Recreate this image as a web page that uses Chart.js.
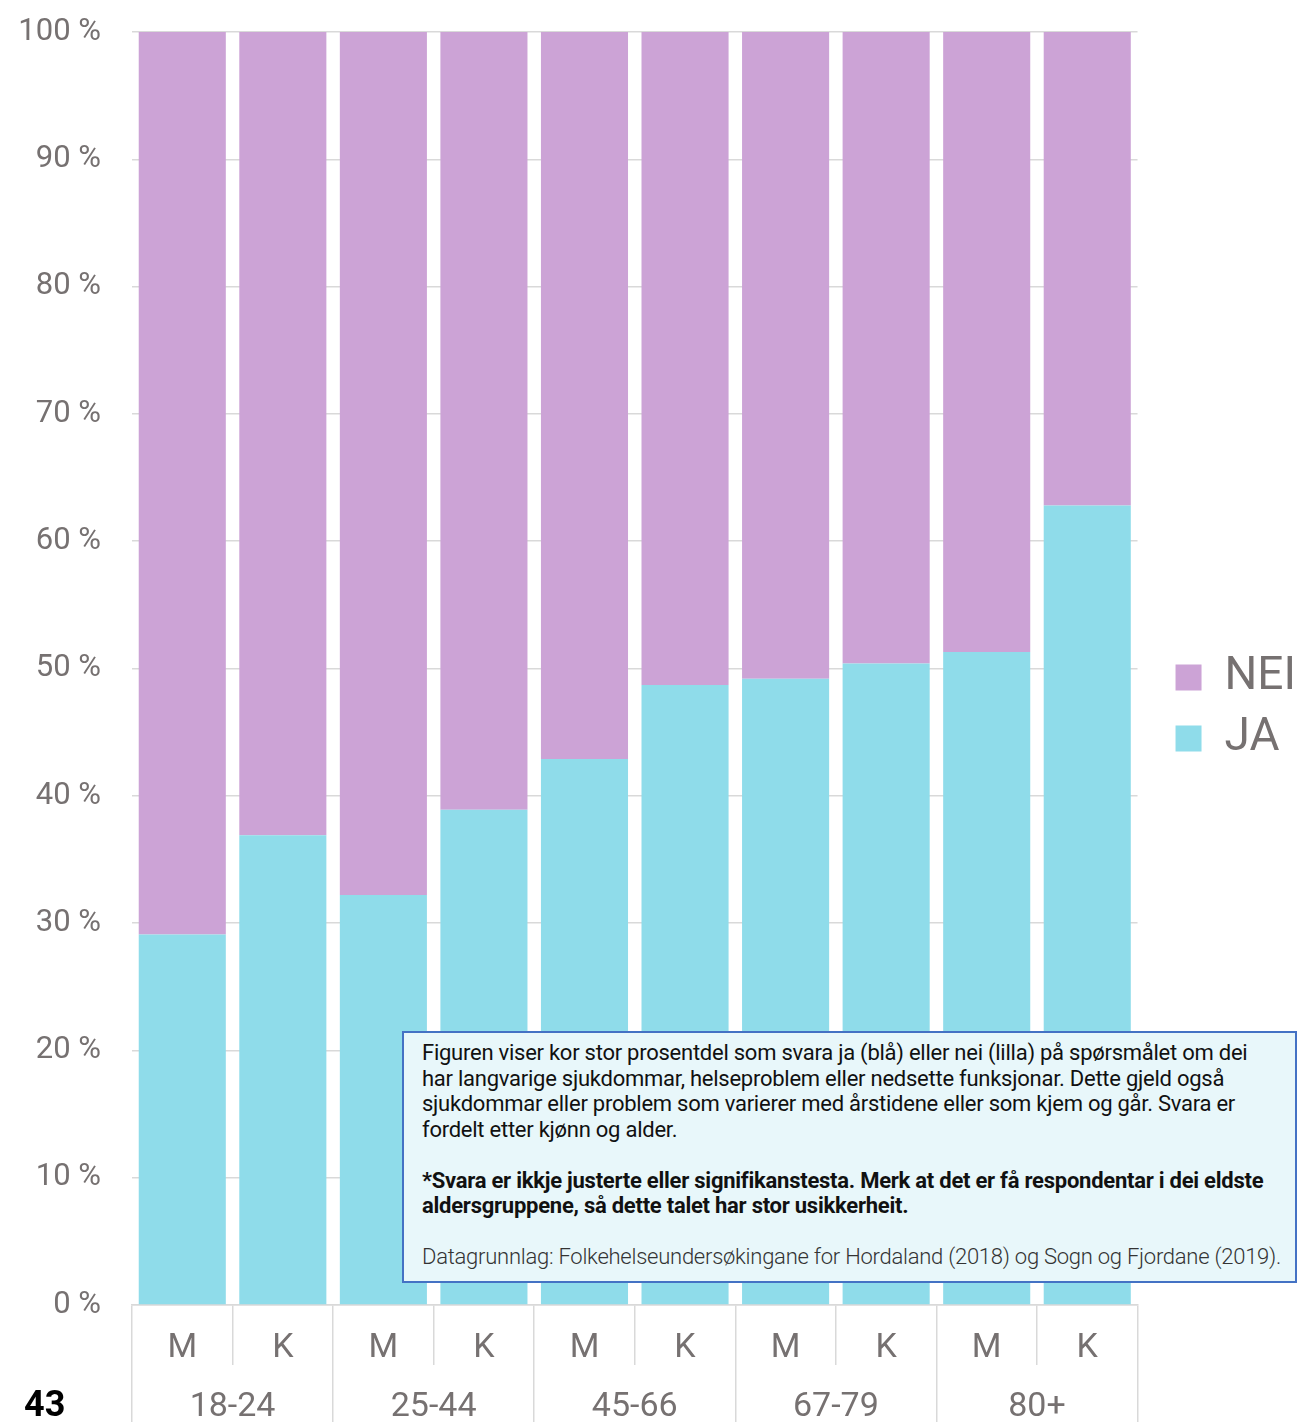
<!DOCTYPE html>
<html lang="nn">
<head>
<meta charset="utf-8">
<title>Langvarige sjukdommar</title>
<script src="https://cdn.jsdelivr.net/npm/chart.js@4.4.1/dist/chart.umd.min.js"></script>
<style>
  html, body { margin: 0; padding: 0; background: #fff; overflow: hidden; }
  #wrap { position: relative; width: 1299px; height: 1422px; }
  #chart { position: absolute; left: 0; top: 0; }
  #note {
    position: absolute; left: 402px; top: 1031px; width: 855px; height: 234px;
    padding: 7px 18px 7px 18px;
    border: 2px solid #4472c4; background: #e8f7fa;
    font-family: Roboto, sans-serif; font-size: 22px; line-height: 25.5px;
    color: #111; white-space: nowrap; letter-spacing: -0.25px;
  }
  #note p { margin: 0 0 25.5px 0; }
  #note .b { font-weight: 700; }
  #note .src { font-weight: 300; color: #333; margin: 0; }
  #pagenr {
    position: absolute; left: 24px; top: 1384px;
    font-family: Roboto, sans-serif; font-weight: 700; font-size: 36px; line-height: 40px; color: #000;
  }
</style>
</head>
<body>
<div id="wrap">
  <canvas id="chart" width="1299" height="1422"></canvas>
  <div id="note">
    <p>Figuren viser kor stor prosentdel som svara ja (blå) eller nei (lilla) på spørsmålet om dei<br>
    har langvarige sjukdommar, helseproblem eller nedsette funksjonar. Dette gjeld også<br>
    sjukdommar eller problem som varierer med årstidene eller som kjem og går. Svara er<br>
    fordelt etter kjønn og alder.</p>
    <p class="b">*Svara er ikkje justerte eller signifikanstesta. Merk at det er få respondentar i dei eldste<br>
    aldersgruppene, så dette talet har stor usikkerheit.</p>
    <p class="src">Datagrunnlag: Folkehelseundersøkingane for Hordaland (2018) og Sogn og Fjordane (2019).</p>
  </div>
  <div id="pagenr">43</div>
</div>
<script>
// kjønn per stolpe og aldersgrupper
const kjonn = ["M", "K", "M", "K", "M", "K", "M", "K", "M", "K"];
const aldersgrupper = ["18-24", "25-44", "45-66", "67-79", "80+"];

// prosent ja / nei (lese av figuren)
const jaVerdiar = [29.1, 36.9, 32.2, 38.9, 42.9, 48.7, 49.2, 50.4, 51.3, 62.8];
const neiVerdiar = [70.9, 63.1, 67.8, 61.1, 57.1, 51.3, 50.8, 49.6, 48.7, 37.2];

const gra = "#767171";
const linje = "#d9d9d9";

Chart.defaults.font.family = "Roboto";
Chart.defaults.color = gra;

new Chart(document.getElementById("chart"), {
  type: "bar",
  data: {
    labels: kjonn,
    datasets: [
      {
        label: "JA",
        data: jaVerdiar,
        backgroundColor: "#8fdcea",
        barPercentage: 0.866,
        categoryPercentage: 1,
      },
      {
        label: "NEI",
        data: neiVerdiar,
        backgroundColor: "#cca3d6",
        barPercentage: 0.866,
        categoryPercentage: 1,
      },
    ],
  },
  options: {
    responsive: false,
    animation: false,
    layout: { padding: { top: 32, left: 0, right: -7, bottom: 0 } },
    plugins: {
      tooltip: { enabled: false },
      legend: {
        position: "right",
        reverse: true,
        // tom tittel med negativ luft for å løfte forklaringa litt
        title: { display: true, text: " ", font: { size: 10, lineHeight: 1.2 }, padding: -25 },
        labels: {
          boxWidth: 26,
          boxHeight: 26,
          padding: 15,
          color: gra,
          font: { size: 46 },
        },
      },
    },
    scales: {
      x: {
        stacked: true,
        offset: true,
        grid: {
          offset: true,
          drawOnChartArea: false,
          tickLength: 60,
          color: linje,
          lineWidth: 1.5,
        },
        border: { display: true, color: linje, width: 1.5 },
        ticks: { padding: -36.8, font: { size: 34, lineHeight: 1.2 }, color: gra },
        afterFit: (s) => { s.height = 60; },
      },
      x2: {
        type: "category",
        position: "bottom",
        labels: aldersgrupper,
        offset: true,
        grid: {
          offset: true,
          drawOnChartArea: false,
          tickLength: 57,
          color: linje,
          lineWidth: 1.5,
        },
        border: { display: false },
        ticks: { padding: -32, font: { size: 34, lineHeight: 1.0 }, color: gra },
        afterFit: (s) => { s.height = 57; },
      },
      y: {
        stacked: true,
        min: 0,
        max: 100,
        ticks: {
          stepSize: 10,
          padding: 31,
          font: { size: 31 },
          color: gra,
          callback: (v) => v + " %",
        },
        grid: { drawTicks: false, color: linje, lineWidth: 1.5 },
        border: { display: false },
        afterFit: (s) => {
          s.width = 132;
          s.paddingTop = 0;
          s.paddingBottom = 0;
        },
      },
      y2: {
        position: "right",
        display: true,
        ticks: { display: false },
        grid: { display: false },
        border: { display: false },
        afterFit: (s) => { s.width = 23; },
      },
    },
  },
});
</script>
</body>
</html>
